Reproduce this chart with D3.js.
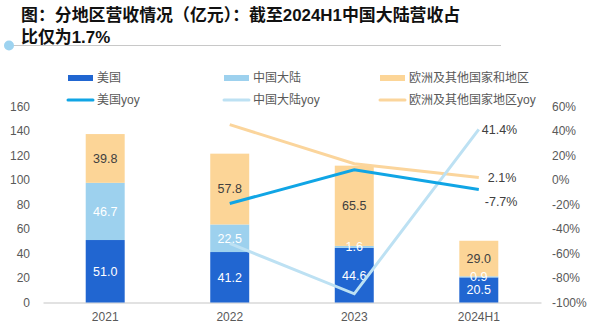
<!DOCTYPE html>
<html><head><meta charset="utf-8">
<script src="https://cdn.jsdelivr.net/npm/d3@7"></script>
<style>body{margin:0;background:#fff;}svg{display:block;font-family:"Liberation Sans","Noto Sans CJK SC",sans-serif;}</style>
</head><body><svg id="c" width="591" height="331"></svg>
<script>
const categories = ["2021", "2022", "2023", "2024H1"];
const usRevenue = [51.0, 41.2, 44.6, 20.5];
const cnRevenue = [46.7, 22.5, 1.6, 0.9];
const euRevenue = [39.8, 57.8, 65.5, 29.0];
const usYoy = [null, -19.2, 8.3, -7.7];
const cnYoy = [null, -51.8, -92.9, 41.4];
const euYoy = [null, 45.2, 13.3, 2.1];
const leftTicks = [0, 20, 40, 60, 80, 100, 120, 140, 160];
const rightTicks = [-100, -80, -60, -40, -20, 0, 20, 40, 60];
const titleLines = ["图：分地区营收情况（亿元）：截至2024H1中国大陆营收占", "比仅为1.7%"];

const colors = {us:"#2166d1", cn:"#9dd1ee", eu:"#fcd597", usL:"#10a5e5", cnL:"#bde1f3", euL:"#fbd59c"};
const svg = d3.select("#c");

// title
titleLines.forEach((t,i)=>svg.append("text").attr("x",21).attr("y",21+i*21.5)
  .attr("font-size",16.9).attr("font-weight","bold").attr("fill","#111").text(t));
svg.append("line").attr("x1",10).attr("x2",501).attr("y1",45.5).attr("y2",45.5).attr("stroke","#c8c8c8").attr("stroke-width",1.2);
svg.append("circle").attr("cx",9).attr("cy",45.5).attr("r",5).attr("fill","#9dd3f0");

const x = d3.scaleBand().domain(categories).range([43,541]).paddingInner(0.687).paddingOuter(0.343);
const y = d3.scaleLinear().domain([0,160]).range([302.5,106.5]);
const y2 = d3.scaleLinear().domain([-100,60]).range([302.5,106.5]);

// axes
const gl = svg.append("g").attr("transform","translate(34,0)").call(d3.axisLeft(y).tickValues(leftTicks).tickSize(0).tickPadding(0));
gl.select(".domain").remove();
gl.selectAll("text").attr("font-size",12).attr("fill","#595959").attr("font-family","Liberation Sans, sans-serif").attr("dx",-4);
const gr = svg.append("g").attr("transform","translate(548,0)").call(d3.axisRight(y2).tickValues(rightTicks).tickFormat(d=>d+"%").tickSize(0).tickPadding(0));
gr.select(".domain").remove();
gr.selectAll("text").attr("font-size",12).attr("fill","#595959").attr("font-family","Liberation Sans, sans-serif").attr("dx",4);
const gx = svg.append("g").attr("transform","translate(0,302.5)").call(d3.axisBottom(x).tickSize(0).tickPadding(10));
gx.select(".domain").attr("stroke","#d9d9d9").attr("stroke-width",1.5);
gx.selectAll("text").attr("font-size",12).attr("fill","#595959").attr("font-family","Liberation Sans, sans-serif");

// stacked bars
const rows = categories.map((c,i)=>({cat:c, us:usRevenue[i], cn:cnRevenue[i], eu:euRevenue[i]}));
const stack = d3.stack().keys(["us","cn","eu"])(rows);
const labelColor = {us:"#ffffff", cn:"#ffffff", eu:"#404040"};
stack.forEach(layer=>{
  const g = svg.append("g");
  g.selectAll("rect").data(layer).join("rect")
    .attr("x",d=>x(d.data.cat)).attr("width",x.bandwidth())
    .attr("y",d=>y(d[1])).attr("height",d=>y(d[0])-y(d[1]))
    .attr("fill",colors[layer.key]);
});
stack.forEach(layer=>{
  svg.append("g").selectAll("text").data(layer).join("text")
    .attr("x",d=>x(d.data.cat)+x.bandwidth()/2).attr("y",d=>(y(d[0])+y(d[1]))/2)
    .attr("dy","0.35em").attr("text-anchor","middle").attr("font-size",12.5)
    .attr("fill",labelColor[layer.key]).text(d=>d.data[layer.key].toFixed(1));
});

// yoy lines
const line = d3.line().defined(d=>d.v!==null).x(d=>x(d.c)+x.bandwidth()/2).y(d=>y2(d.v));
function drawLine(vals,col){
  svg.append("path").datum(categories.map((c,i)=>({c, v:vals[i]})))
    .attr("d",line).attr("fill","none").attr("stroke",col).attr("stroke-width",3);
}
drawLine(euYoy, colors.euL);
drawLine(cnYoy, colors.cnL);
drawLine(usYoy, colors.usL);
const last = categories.length-1;
const xl = x(categories[last])+x.bandwidth()/2;
[[cnYoy,0,0],[euYoy,6,0],[usYoy,3,12]].forEach(([vals,dx,dy])=>{
  svg.append("text").attr("x",xl+6+dx-3).attr("y",y2(vals[last])+dy).attr("dy","0.35em")
    .attr("font-size",12.5).attr("fill","#404040").text(vals[last].toFixed(1)+"%");
});

// legend
const legend = [
  {t:"美国", c:colors.us, type:"rect", x:68, y:78},
  {t:"中国大陆", c:colors.cn, type:"rect", x:224, y:78},
  {t:"欧洲及其他国家和地区", c:colors.eu, type:"rect", x:380, y:78},
  {t:"美国yoy", c:colors.usL, type:"line", x:68, y:100},
  {t:"中国大陆yoy", c:colors.cnL, type:"line", x:224, y:100},
  {t:"欧洲及其他国家地区yoy", c:colors.euL, type:"line", x:380, y:100}
];
legend.forEach(l=>{
  if(l.type==="rect") svg.append("rect").attr("x",l.x).attr("y",l.y-3).attr("width",25).attr("height",6).attr("fill",l.c);
  else svg.append("line").attr("x1",l.x).attr("x2",l.x+25).attr("y1",l.y).attr("y2",l.y).attr("stroke",l.c).attr("stroke-width",3).attr("stroke-linecap","round");
  svg.append("text").attr("x",l.x+29).attr("y",l.y).attr("dy","0.35em").attr("font-size",12).attr("fill","#595959").text(l.t);
});
</script></body></html>
